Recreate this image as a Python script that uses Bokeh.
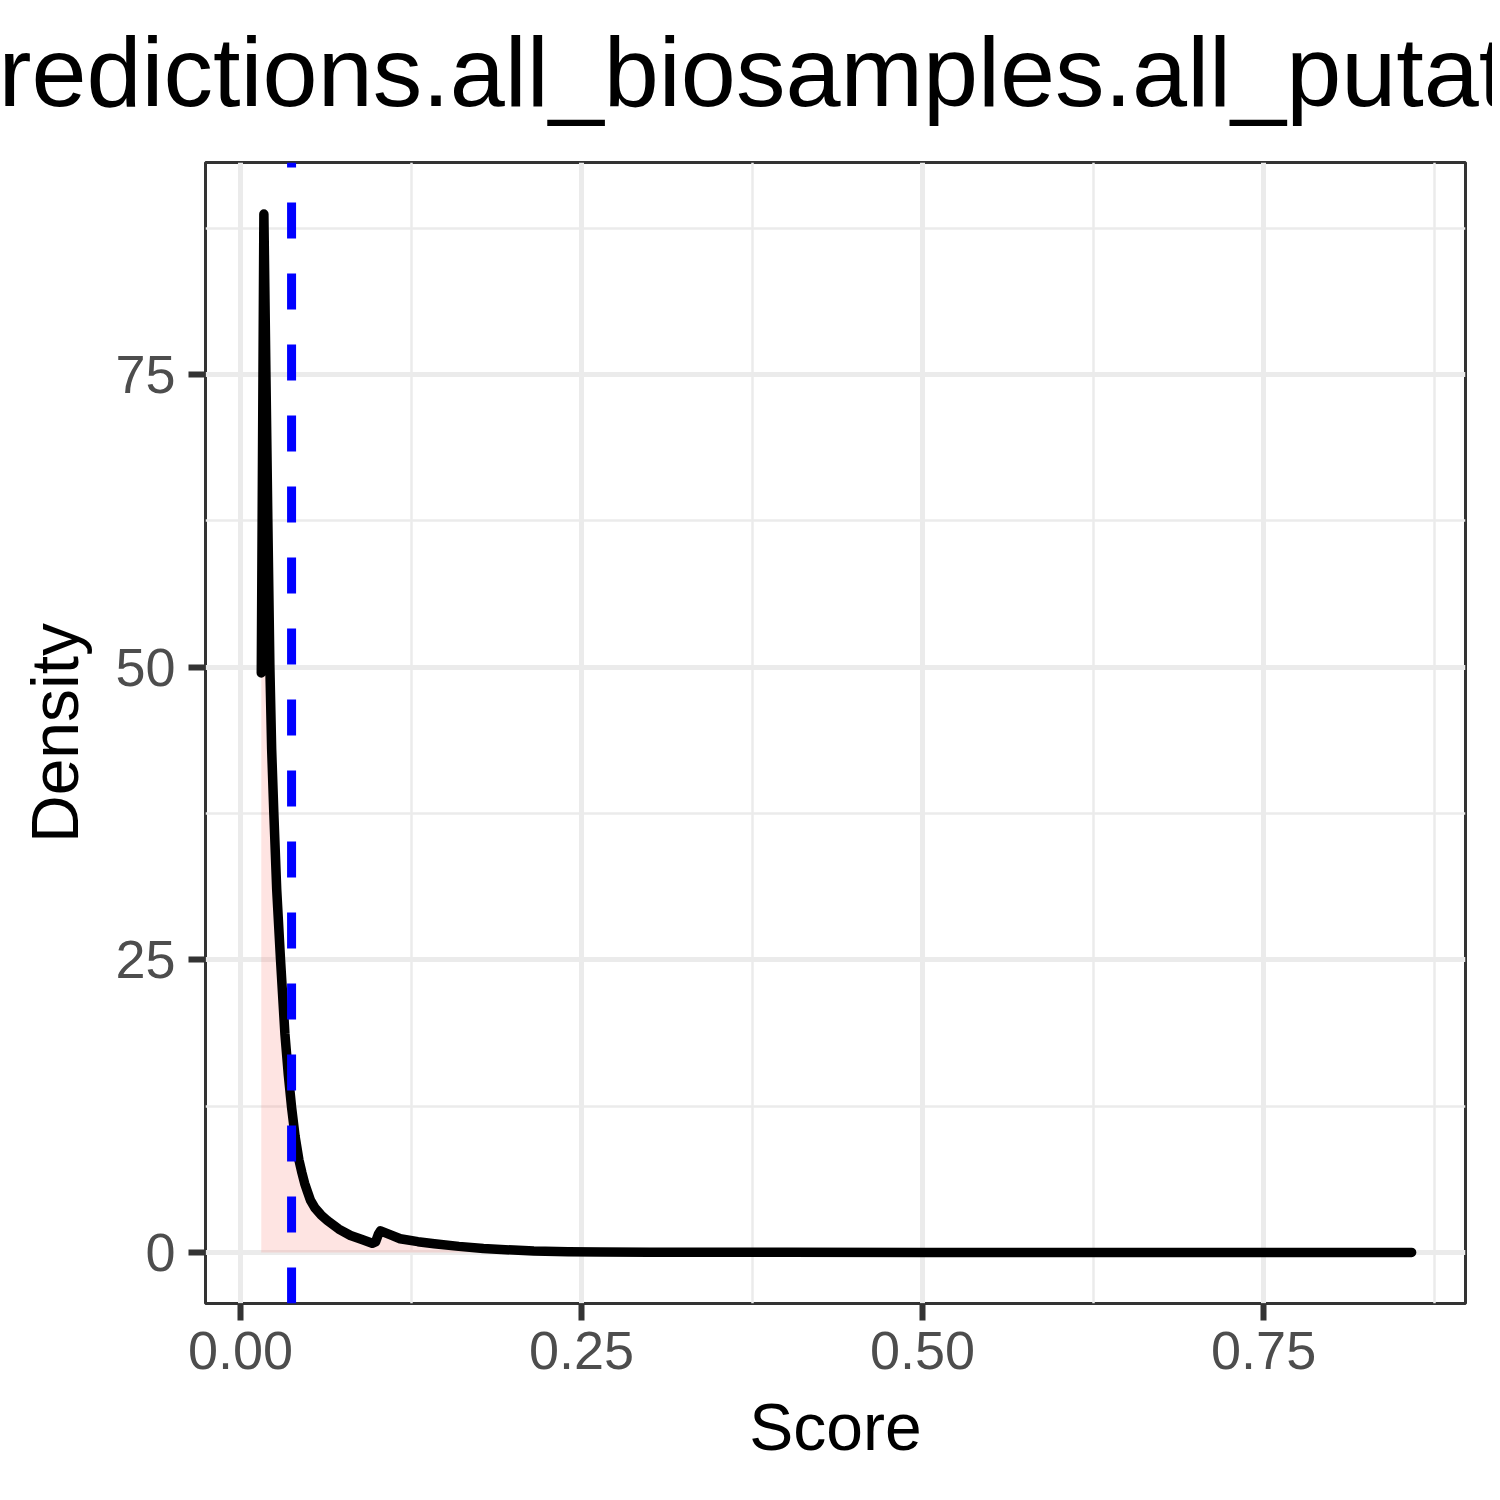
from bokeh.plotting import figure
from bokeh.models import FixedTicker, Range1d, Span, Title
from bokeh.embed import file_html
from bokeh.resources import INLINE

# density curve
score = [0.0152, 0.0171, 0.0186, 0.0200, 0.0215, 0.0228, 0.0244, 0.0265, 0.0293,
         0.0325, 0.0350, 0.0374, 0.0400, 0.0428, 0.0450, 0.0470, 0.0490, 0.0513,
         0.0545, 0.0590, 0.0636, 0.0720, 0.0806, 0.0890, 0.0965, 0.0990, 0.1010,
         0.1026, 0.1100, 0.1170, 0.1300, 0.1420, 0.1600, 0.1780, 0.2000, 0.2150,
         0.2400, 0.2640, 0.3000, 0.4000, 0.5000, 0.6000, 0.7000, 0.8000, 0.8585]
density = [49.5, 88.7, 75.0, 62.5, 50.0, 43.0, 37.5, 31.0, 25.0,
           18.7, 15.2, 12.4, 9.9, 7.9, 6.8, 5.9, 5.2, 4.44,
           3.8, 3.2, 2.73, 2.0, 1.45, 1.1, 0.78, 0.9, 1.55,
           1.85, 1.5, 1.17, 0.92, 0.75, 0.52, 0.34, 0.2, 0.12,
           0.07, 0.04, 0.02, 0.01, 0.005, 0.003, 0.002, 0.001, 0.001]
threshold = 0.0374

x_ticks = [0.0, 0.25, 0.5, 0.75]
x_minor = [0.125, 0.375, 0.625, 0.875]
x_labels = ["0.00", "0.25", "0.50", "0.75"]
y_ticks = [0, 25, 50, 75]
y_minor = [12.5, 37.5, 62.5, 87.5]
y_labels = ["0", "25", "50", "75"]

title_text = "redictions.all_biosamples.all_putat"

FONT = "Liberation Sans"

p = figure(width=1492, height=1492, output_backend="svg", toolbar_location=None,
           x_range=Range1d(-0.0257, 0.898), y_range=Range1d(-4.36, 93.1),
           min_border_left=205, min_border_right=27, min_border_top=162,
           min_border_bottom=189)

# the title is wider than the plot, so it is placed from the left edge
p.title.text = title_text
p.title.align = "left"
p.title.offset = -207
p.title.vertical_align = "bottom"
p.title.standoff = 0
p.title.text_font = FONT
p.title.text_font_size = "99px"
p.title.text_font_style = "normal"
p.title.text_color = "black"

# empty strip between the title and the panel
p.add_layout(Title(text=" ", text_font_size="1px", standoff=33), "above")

p.outline_line_color = "#333333"
p.outline_line_width = 3
p.background_fill_color = "white"
p.border_fill_color = "white"

p.xaxis.ticker = FixedTicker(ticks=x_ticks, minor_ticks=x_minor)
p.yaxis.ticker = FixedTicker(ticks=y_ticks, minor_ticks=y_minor)
p.xaxis.major_label_overrides = dict(zip(x_ticks, x_labels))
p.yaxis.major_label_overrides = dict(zip(y_ticks, y_labels))

for ax in (p.xaxis, p.yaxis):
    ax.axis_line_color = None
    ax.minor_tick_line_color = None
    ax.major_tick_line_color = "#333333"
    ax.major_tick_line_width = 6
    ax.major_tick_in = 0
    ax.major_tick_out = 17
    ax.major_label_text_font = FONT
    ax.major_label_text_font_size = "54px"
    ax.major_label_text_color = "#4D4D4D"
    ax.axis_label_text_font = FONT
    ax.axis_label_text_font_size = "66px"
    ax.axis_label_text_font_style = "normal"
    ax.axis_label_text_color = "black"

p.xaxis.axis_label = "Score"
p.yaxis.axis_label = "Density"
p.xaxis.major_label_standoff = 11
p.yaxis.major_label_standoff = 13
p.xaxis.axis_label_standoff = 18
p.yaxis.axis_label_standoff = 20

p.grid.grid_line_color = "#EBEBEB"
p.grid.grid_line_width = 5
p.grid.minor_grid_line_color = "#EBEBEB"
p.grid.minor_grid_line_width = 2.5

p.varea(x=score, y1=0, y2=density, fill_color="#F8766D", fill_alpha=0.2)
p.line(score, density, line_color="black", line_width=9.5,
       line_cap="round", line_join="round")

p.add_layout(Span(location=threshold, dimension="height", line_color="blue",
                  line_width=9, line_dash="36 35", line_dash_offset=31))

open("out.html", "w").write(file_html(p, INLINE))
